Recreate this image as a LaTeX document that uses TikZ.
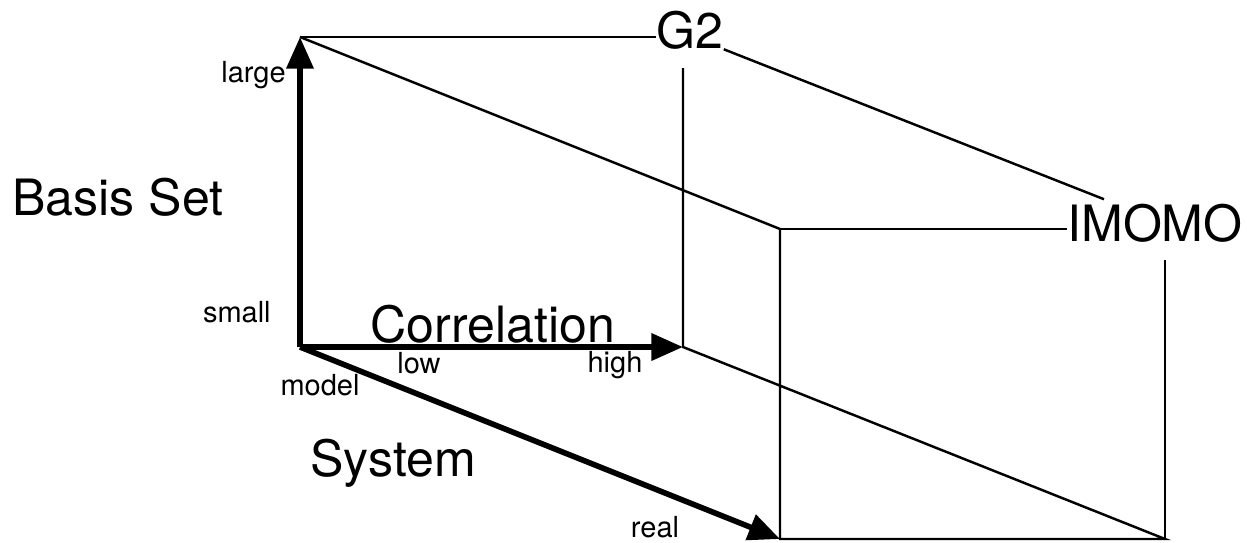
\documentclass[tikz,border=0pt]{standalone}
\usepackage{fontspec}
\setmainfont{TeX Gyre Heros}
\usetikzlibrary{arrows.meta,positioning}

\begin{document}
\begin{tikzpicture}[
    x=0.02cm, y=-0.02cm,
    every node/.style={inner sep=0pt},
    big/.style={font=\fontsize{28.5}{32}\selectfont, anchor=base},
    tick/.style={font=\fontsize{16.5}{19}\selectfont, anchor=base},
    axis/.style={line width=3.2pt, -{Triangle[length=18pt,width=15pt]}},
    edge/.style={line width=1.4pt}
]
\useasboundingbox (0,0) rectangle (1247,542);

% --- Corners ---
\coordinate (o) at (300,347);
\coordinate (tl) at (300,37);
\coordinate (hi) at (683,347);
\coordinate (re) at (780,539);
\coordinate (ftl) at (780,229);
\coordinate (fbr) at (1165,539);
\coordinate (bk) at (683,68);
\coordinate (fk) at (1165,260);

% --- Corner labels ---
\node[big] (G2) at (690,48) {G2};
\node[big] (IMOMO) at (1155,241) {IMOMO};

% --- Axes ---
\draw[axis] (o) -- (tl);
\draw[axis] (o) -- (hi);
\draw[axis] (o) -- (re);

% --- Box ---
\draw[edge] (tl) -- (tl -| G2.west);
\draw[edge] (G2.south east) -- ([shift={(37,-4)}]IMOMO.north west);
\draw[edge] (bk) -- (hi) -- (fbr) -- (re) -- (ftl) -- (tl);
\draw[edge] (ftl) -- (ftl -| IMOMO.west);
\draw[edge] (fk) -- (fbr);

% --- Axis names ---
\node[big] (basis) at (118,215) {Basis Set};
\node[big, text depth=0pt] (corr) at (493,342) {Correlation};
\node[big] (sys) at (393,476) {System};

% --- Axis ends ---
\node[tick, anchor=base east] (large) at (286,82) {large};
\node[tick, anchor=base east] (small) at (271,322) {small};
\node[tick] (low) at (419,373) {low};
\node[tick] (high) at (615,372) {high};
\node[tick] (model) at (320,395) {model};
\node[tick] (real) at (655,537) {real};

\end{tikzpicture}
\end{document}
